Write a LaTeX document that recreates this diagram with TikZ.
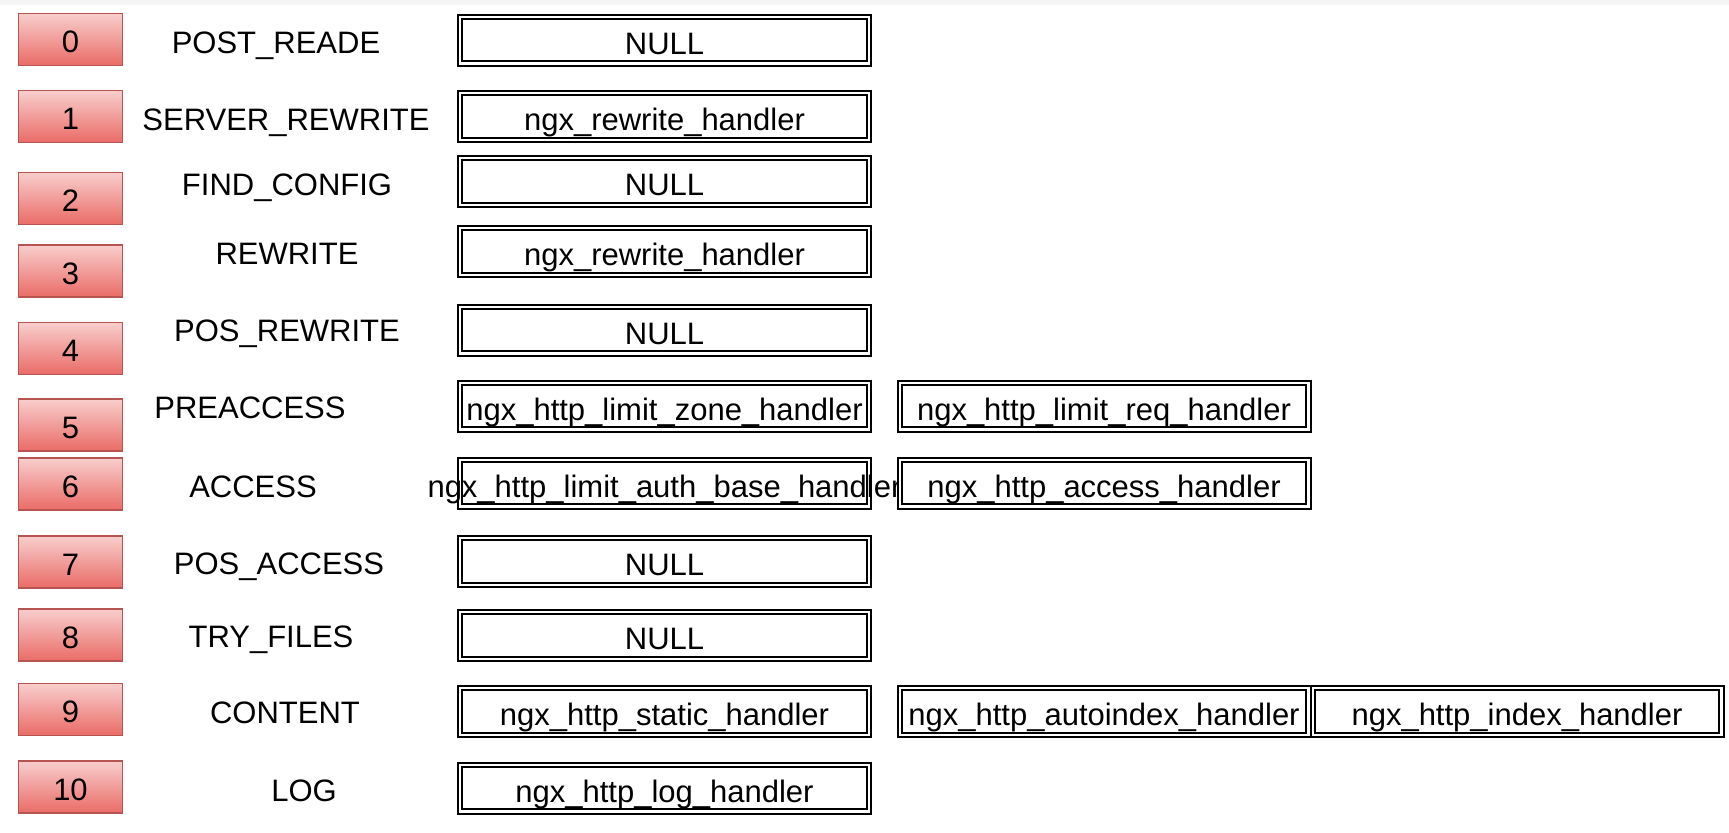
\documentclass[tikz,border=0pt]{standalone}
\usepackage{fontspec}
\setmainfont{Liberation Sans}
\usepackage{xcolor}
\usepackage{tikz}
\usetikzlibrary{positioning}
\definecolor{phaseTop}{HTML}{F8CECC}
\definecolor{phaseBottom}{HTML}{EA6B66}
\definecolor{phaseLine}{HTML}{B85450}

\begin{document}
\begin{tikzpicture}[
    x=0.5pt, y=-0.5pt,
    idnode/.style={rectangle, draw=phaseLine, line width=0.6pt, top color=phaseTop, bottom color=phaseBottom, minimum width=52pt, minimum height=26pt, inner sep=0pt, text height=13.3pt, text depth=0pt, font=\fontsize{15.5}{18}\selectfont},
    phasename/.style={inner sep=0pt, text height=11.5pt, text depth=0pt, font=\fontsize{15.5}{18}\selectfont},
    handler/.style={rectangle, draw=black, line width=1pt, double, double distance=1.2pt, minimum width=204.3pt, minimum height=23.3pt, inner sep=0pt, text height=14pt, text depth=0pt, font=\fontsize{15.5}{18}\selectfont}
]
\useasboundingbox (0,0) rectangle (1729,832);
\fill[gray!8] (0,0) rectangle (1729,5);

% phase numbers
\node[idnode] (id0) at (70.5,39.5) {0};
\node[idnode] (id1) at (70.5,116.5) {1};
\node[idnode] (id2) at (70.5,198.5) {2};
\node[idnode] (id3) at (70.5,271) {3};
\node[idnode] (id4) at (70.5,348.5) {4};
\node[idnode] (id5) at (70.5,425) {5};
\node[idnode] (id6) at (70.5,484) {6};
\node[idnode] (id7) at (70.5,562) {7};
\node[idnode] (id8) at (70.5,635) {8};
\node[idnode] (id9) at (70.5,709.5) {9};
\node[idnode] (id10) at (70.5,787) {10};

% phase names
\node[phasename] (name0) at (276,42) {POST\_READE};
\node[phasename] (name1) at (286,119) {SERVER\_REWRITE};
\node[phasename] (name2) at (287,184) {FIND\_CONFIG};
\node[phasename] (name3) at (287,253) {REWRITE};
\node[phasename] (name4) at (287,330) {POS\_REWRITE};
\node[phasename] (name5) at (250,407) {PREACCESS};
\node[phasename] (name6) at (253,486) {ACCESS};
\node[phasename] (name7) at (279,563) {POS\_ACCESS};
\node[phasename] (name8) at (271,636) {TRY\_FILES};
\node[phasename] (name9) at (285,712) {CONTENT};
\node[phasename] (name10) at (304,790) {LOG};

% handlers
\node[handler] (h0) at (664.5,40) {NULL};
\node[handler] (h1) at (664.5,116.5) {ngx\_rewrite\_handler};
\node[handler] (h2) at (664.5,181.5) {NULL};
\node[handler] (h3) at (664.5,251.5) {ngx\_rewrite\_handler};
\node[handler] (h4) at (664.5,330) {NULL};
\node[handler] (h5a) at (664.5,406) {ngx\_http\_limit\_zone\_handler};
\node[handler] (h5b) at (1104,406) {ngx\_http\_limit\_req\_handler};
\node[handler] (h6a) at (664.5,483) {\makebox[0pt]{ngx\_http\_limit\_auth\_base\_handler}};
\node[handler] (h6b) at (1104,483) {ngx\_http\_access\_handler};
\node[handler] (h7) at (664.5,561.5) {NULL};
\node[handler] (h8) at (664.5,635.5) {NULL};
\node[handler] (h9a) at (664.5,711.5) {ngx\_http\_static\_handler};
\node[handler] (h9b) at (1104,711.5) {ngx\_http\_autoindex\_handler};
\node[handler] (h9c) at (1517,711.5) {ngx\_http\_index\_handler};
\node[handler] (h10) at (664.5,788) {ngx\_http\_log\_handler};
\end{tikzpicture}
\end{document}
